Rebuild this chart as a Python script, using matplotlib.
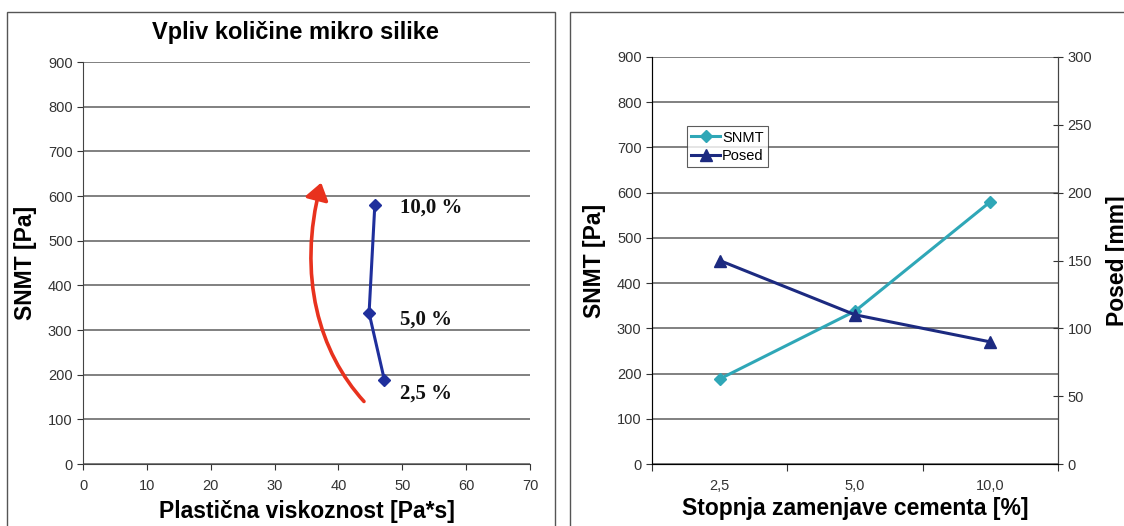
import matplotlib.pyplot as plt
from matplotlib.patches import FancyArrowPatch, Rectangle
from matplotlib.path import Path

plt.rcParams['font.family'] = ['Liberation Sans', 'DejaVu Sans']

# left chart: plastic viscosity vs. yield stress for three silica contents
visc = [47.2, 44.8, 45.7]
snmt_left = [188, 338, 580]
pct_labels = ['2,5 %', '5,0 %', '10,0 %']

# right chart: replacement level vs. yield stress and slump
replacement = ['2,5', '5,0', '10,0']
snmt_right = [188, 338, 580]
posed = [150, 110, 90]

grid_col = '#5e5e5e'
tick_col = '#333333'

fig = plt.figure(figsize=(11.24, 5.26), dpi=100)

# panel frames
fig.add_artist(Rectangle((7 / 1124, -0.05), 548 / 1124, 1.05 - 12 / 526,
                         transform=fig.transFigure, fill=False,
                         edgecolor='#555555', linewidth=1.0))
fig.add_artist(Rectangle((570 / 1124, -0.05), 0.6, 1.05 - 12 / 526,
                         transform=fig.transFigure, fill=False,
                         edgecolor='#555555', linewidth=1.0))


def style_axis(ax):
    ax.set_ylim(0, 900)
    ax.set_yticks(range(0, 1000, 100))
    ax.yaxis.grid(True, color=grid_col, linewidth=1.1)
    ax.set_axisbelow(True)
    ax.spines['top'].set_visible(False)
    for s in ['left', 'bottom', 'right']:
        ax.spines[s].set_color('#444444')
    ax.tick_params(colors=tick_col, labelsize=10.5, direction='out', length=4)
    ax.tick_params(axis='x', pad=7)


# ---- left chart ----
ax1 = fig.add_axes([83 / 1124, 1 - 464 / 526, 447 / 1124, 402 / 526])
style_axis(ax1)
ax1.spines['right'].set_visible(False)
ax1.set_xlim(0, 70)
ax1.set_xticks(range(0, 80, 10))
ax1.plot(visc, snmt_left, color='#1f2f9c', linewidth=2.2, marker='D',
         markersize=6, zorder=3)
for x, y, lab in zip(visc, snmt_left, pct_labels):
    dy = -30 if lab == '2,5 %' else (-15 if lab == '5,0 %' else -5)
    ax1.text(49.6, y + dy, lab, family=['Liberation Serif', 'DejaVu Serif'],
             fontweight='bold', fontsize=15, ha='left', va='center',
             color='#111111')

# red curved arrow showing the trend
verts = [(44.0, 140), (37.0, 250), (33.5, 420), (37.3, 630)]
codes = [Path.MOVETO, Path.CURVE4, Path.CURVE4, Path.CURVE4]
arrow = FancyArrowPatch(path=Path(verts, codes),
                        arrowstyle='-|>,head_length=10,head_width=7',
                        facecolor='#e8321e', edgecolor='#e8321e',
                        linewidth=2.6, transform=ax1.transData, zorder=4)
ax1.add_patch(arrow)

ax1.set_xlabel('Plastična viskoznost [Pa*s]', fontsize=16.5, fontweight='bold',
               labelpad=5)
ax1.set_ylabel('SNMT [Pa]', fontsize=16.5, fontweight='bold', labelpad=8)
fig.text(295 / 1124, 1 - 32 / 526, 'Vpliv količine mikro silike',
         fontsize=17, fontweight='bold', ha='center', va='center')

# ---- right chart ----
ax2 = fig.add_axes([652 / 1124, 1 - 464 / 526, 406 / 1124, 407 / 526])
style_axis(ax2)
pos = list(range(len(replacement)))
ax2.set_xlim(-0.5, len(replacement) - 0.5)
ax2.set_xticks([p - 0.5 for p in pos] + [len(replacement) - 0.5])
ax2.set_xticklabels([])
ax2.set_xticks(pos, minor=True)
ax2.set_xticklabels(replacement, minor=True)
ax2.tick_params(axis='x', which='minor', length=0, colors=tick_col,
                labelsize=10.5, pad=11)
ax2.tick_params(axis='x', which='major', length=5)

l1, = ax2.plot(pos, snmt_right, color='#2fa7b7', linewidth=2.2, marker='D',
               markersize=6, label='SNMT', zorder=3)
ax3 = ax2.twinx()
ax3.set_ylim(0, 300)
ax3.set_yticks(range(0, 350, 50))
ax3.spines['top'].set_visible(False)
ax3.spines['right'].set_color('#444444')
ax3.tick_params(colors=tick_col, labelsize=10.5, direction='inout', length=7)
l2, = ax3.plot(pos, posed, color='#1c2a80', linewidth=2.2, marker='^',
               markersize=8, label='Posed', zorder=3)

leg = ax2.legend(handles=[l1, l2], loc='upper left',
                 bbox_to_anchor=(0.086, 0.83), fontsize=10.5, frameon=True,
                 fancybox=False, edgecolor='#333333', handlelength=2.0,
                 handletextpad=0.1, borderpad=0.3, labelspacing=0.3,
                 borderaxespad=0)
leg.get_frame().set_linewidth(0.8)

ax2.set_xlabel('Stopnja zamenjave cementa [%]', fontsize=16.5,
               fontweight='bold', labelpad=3)
ax2.set_ylabel('SNMT [Pa]', fontsize=16.5, fontweight='bold', labelpad=8)
ax3.set_ylabel('Posed [mm]', fontsize=16.5, fontweight='bold', labelpad=10)

fig.savefig('out.png', dpi=100)
